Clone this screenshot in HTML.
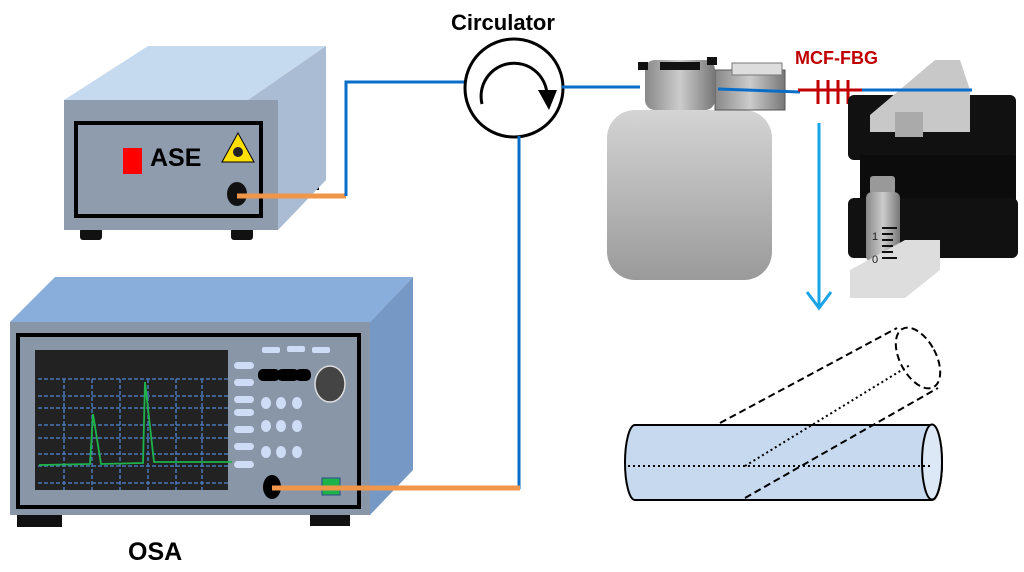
<!DOCTYPE html>
<html><head><meta charset="utf-8"><style>body{margin:0;background:#fff}svg{display:block}</style></head><body>
<svg width="1024" height="572" viewBox="0 0 1024 572" xmlns="http://www.w3.org/2000/svg" font-family="Liberation Sans, sans-serif">
<defs>
<linearGradient id="gb" x1="0" y1="0" x2="0" y2="1"><stop offset="0" stop-color="#d4d4d4"/><stop offset="1" stop-color="#9a9a9a"/></linearGradient>
<linearGradient id="gs" x1="0" y1="0" x2="1" y2="0"><stop offset="0" stop-color="#888"/><stop offset=".5" stop-color="#ccc"/><stop offset="1" stop-color="#777"/></linearGradient>
</defs>
<!-- ASE -->
<rect x="80" y="228" width="22" height="12" rx="3" fill="#111"/>
<rect x="231" y="228" width="22" height="12" rx="3" fill="#111"/>
<rect x="305" y="175" width="14" height="15" fill="#111"/>
<polygon points="64,100 148,46 326,46 248,100" fill="#c5d9ef"/>
<polygon points="248,100 326,46 326,180 278,230 248,230" fill="#aabbd4"/>
<rect x="64" y="100" width="214" height="130" fill="#8e9cad"/>
<rect x="76" y="123" width="185" height="93" fill="none" stroke="#000" stroke-width="4"/>
<rect x="123" y="148" width="19" height="26" fill="#f00"/>
<text x="150" y="166" font-size="25" font-weight="bold" fill="#000">ASE</text>
<polygon points="238,133 222,162 254,162" fill="#ffe000" stroke="#000" stroke-width="1"/>
<circle cx="238" cy="152" r="5" fill="#222"/>
<ellipse cx="237" cy="194" rx="10" ry="12" fill="#111"/>
<line x1="237" y1="196" x2="346" y2="196" stroke="#f0964a" stroke-width="5"/>
<polyline points="346,196 346,82 466,82" fill="none" stroke="#0a6ec9" stroke-width="3"/>
<!-- Circulator -->
<text x="451" y="30" font-size="22" font-weight="bold" fill="#000">Circulator</text>
<circle cx="514" cy="88" r="49" fill="#fff" stroke="#000" stroke-width="3"/>
<path d="M482,104 A33,33 0 1 1 547,94" fill="none" stroke="#000" stroke-width="3"/>
<polygon points="538,90 557,90 549,110" fill="#000"/>
<line x1="562" y1="87" x2="640" y2="87" stroke="#0a6ec9" stroke-width="3"/>
<line x1="519" y1="136" x2="519" y2="489" stroke="#0a6ec9" stroke-width="3"/>
<!-- OSA -->
<rect x="17" y="514" width="45" height="13" fill="#111"/>
<rect x="310" y="514" width="40" height="12" fill="#111"/>
<polygon points="10,322 55,277 413,277 370,322" fill="#8aaedc"/>
<polygon points="370,322 413,277 413,470 370,515" fill="#7698c4"/>
<rect x="10" y="322" width="360" height="193" fill="#8896a8"/>
<rect x="18" y="335" width="341" height="172" fill="none" stroke="#000" stroke-width="4"/>
<rect x="35" y="350" width="193" height="140" fill="#222"/>
<g stroke="#4a78b8" stroke-width="1.5" stroke-dasharray="4,2">
<line x1="38" y1="379" x2="228" y2="379"/><line x1="38" y1="396" x2="228" y2="396"/><line x1="38" y1="408" x2="228" y2="408"/><line x1="38" y1="425" x2="228" y2="425"/><line x1="38" y1="438" x2="228" y2="438"/><line x1="38" y1="454" x2="228" y2="454"/><line x1="38" y1="466" x2="228" y2="466"/><line x1="38" y1="483" x2="228" y2="483"/>
<line x1="64" y1="379" x2="64" y2="490"/><line x1="92" y1="379" x2="92" y2="490"/><line x1="120" y1="379" x2="120" y2="490"/><line x1="148" y1="379" x2="148" y2="490"/><line x1="176" y1="379" x2="176" y2="490"/><line x1="202" y1="379" x2="202" y2="490"/>
</g>
<polyline points="39,465 90,464 93,414 101,464 143,463 145,382 154,462 232,462" fill="none" stroke="#1db34a" stroke-width="1.8"/>
<g fill="#cfdcf5">
<rect x="234" y="362" width="20" height="7" rx="3.5"/><rect x="234" y="379" width="20" height="7" rx="3.5"/><rect x="234" y="396" width="20" height="7" rx="3.5"/><rect x="234" y="409" width="20" height="7" rx="3.5"/><rect x="234" y="426" width="20" height="7" rx="3.5"/><rect x="234" y="443" width="20" height="7" rx="3.5"/><rect x="234" y="461" width="20" height="7" rx="3.5"/>
<rect x="262" y="347" width="18" height="6" rx="2"/><rect x="287" y="346" width="18" height="6" rx="2"/><rect x="312" y="347" width="18" height="6" rx="2"/>
<ellipse cx="266" cy="403" rx="5" ry="6"/><ellipse cx="281" cy="403" rx="5" ry="6"/><ellipse cx="297" cy="403" rx="5" ry="6"/>
<ellipse cx="266" cy="426" rx="5" ry="6"/><ellipse cx="281" cy="426" rx="5" ry="6"/><ellipse cx="297" cy="426" rx="5" ry="6"/>
<ellipse cx="266" cy="452" rx="5" ry="6"/><ellipse cx="281" cy="452" rx="5" ry="6"/><ellipse cx="297" cy="452" rx="5" ry="6"/>
</g>
<rect x="258" y="369" width="22" height="12" rx="5" fill="#000"/><rect x="277" y="369" width="22" height="12" rx="5" fill="#000"/><rect x="295" y="369" width="16" height="12" rx="5" fill="#000"/>
<ellipse cx="330" cy="384" rx="15" ry="18" fill="#444" stroke="#ddd" stroke-width="1.5"/>
<ellipse cx="272" cy="487" rx="9" ry="12" fill="#000"/>
<rect x="322" y="478" width="18" height="17" fill="#1db34a" stroke="#2a4a8a"/>
<line x1="272" y1="488" x2="520" y2="488" stroke="#f0964a" stroke-width="5"/>
<text x="128" y="560" font-size="25" font-weight="bold" fill="#000">OSA</text>
<!-- Pump -->
<rect x="607" y="110" width="165" height="170" rx="28" fill="url(#gb)"/>
<rect x="715" y="70" width="70" height="40" fill="url(#gs)" stroke="#555" stroke-width="1"/>
<rect x="732" y="63" width="50" height="12" fill="#ddd" stroke="#777"/>
<rect x="645" y="60" width="70" height="50" rx="10" fill="url(#gs)"/>
<rect x="660" y="62" width="40" height="8" fill="#111"/>
<rect x="638" y="62" width="10" height="8" fill="#111"/>
<rect x="707" y="57" width="10" height="8" fill="#111"/>
<line x1="718" y1="89" x2="800" y2="92" stroke="#0a6ec9" stroke-width="3"/>
<text x="795" y="64" font-size="18" font-weight="bold" fill="#c00000">MCF-FBG</text>
<line x1="798" y1="90" x2="862" y2="90" stroke="#c00000" stroke-width="3"/>
<g stroke="#c00000" stroke-width="3"><line x1="818" y1="80" x2="818" y2="104"/><line x1="828" y1="80" x2="828" y2="104"/><line x1="838" y1="80" x2="838" y2="104"/><line x1="848" y1="80" x2="848" y2="104"/></g>
<!-- Stage -->
<rect x="848" y="95" width="168" height="65" rx="6" fill="#111"/>
<rect x="860" y="155" width="156" height="80" fill="#0c0c0c"/>
<rect x="848" y="198" width="170" height="60" rx="6" fill="#111"/>
<polygon points="870,115 935,60 960,60 970,90 970,132 870,132" fill="#c8c8c8"/>
<rect x="895" y="112" width="28" height="25" fill="#aaa"/>
<line x1="862" y1="90" x2="972" y2="90" stroke="#0a6ec9" stroke-width="3"/>
<rect x="870" y="176" width="25" height="18" rx="3" fill="#999"/>
<rect x="866" y="192" width="34" height="70" rx="6" fill="url(#gs)"/>
<polygon points="850,270 905,240 940,240 940,270 905,298 850,298" fill="#ddd"/>
<text x="872" y="240" font-size="11" fill="#222">1</text><text x="872" y="263" font-size="11" fill="#222">0</text>
<g stroke="#111" stroke-width="2"><line x1="882" y1="228" x2="897" y2="228"/><line x1="882" y1="234" x2="893" y2="234"/><line x1="882" y1="240" x2="893" y2="240"/><line x1="882" y1="246" x2="893" y2="246"/><line x1="882" y1="252" x2="893" y2="252"/><line x1="882" y1="258" x2="897" y2="258"/></g>
<!-- arrow -->
<line x1="819" y1="123" x2="819" y2="308" stroke="#1aa4e8" stroke-width="3"/>
<polyline points="807,292 819,308 831,292" fill="none" stroke="#1aa4e8" stroke-width="3"/>
<!-- Tube -->
<path d="M635,425 L932,425 A10,37.5 0 0 1 932,500 L635,500 A10,37.5 0 0 1 635,425 Z" fill="#c6d9ef" stroke="#000" stroke-width="2"/>
<ellipse cx="932" cy="462" rx="10" ry="37.5" fill="#dde8f6" stroke="#000" stroke-width="2"/>
<line x1="628" y1="466" x2="932" y2="466" stroke="#000" stroke-width="2" stroke-dasharray="2,3"/>
<g fill="none" stroke="#000" stroke-width="2" stroke-dasharray="7,4">
<line x1="720" y1="423" x2="897" y2="328"/>
<line x1="745" y1="498" x2="938" y2="388"/>
<ellipse cx="918" cy="358" rx="18" ry="33" transform="rotate(-28 918 358)"/>
</g>
<line x1="745" y1="466" x2="910" y2="365" stroke="#000" stroke-width="2" stroke-dasharray="2,3"/>
</svg>
</body></html>
